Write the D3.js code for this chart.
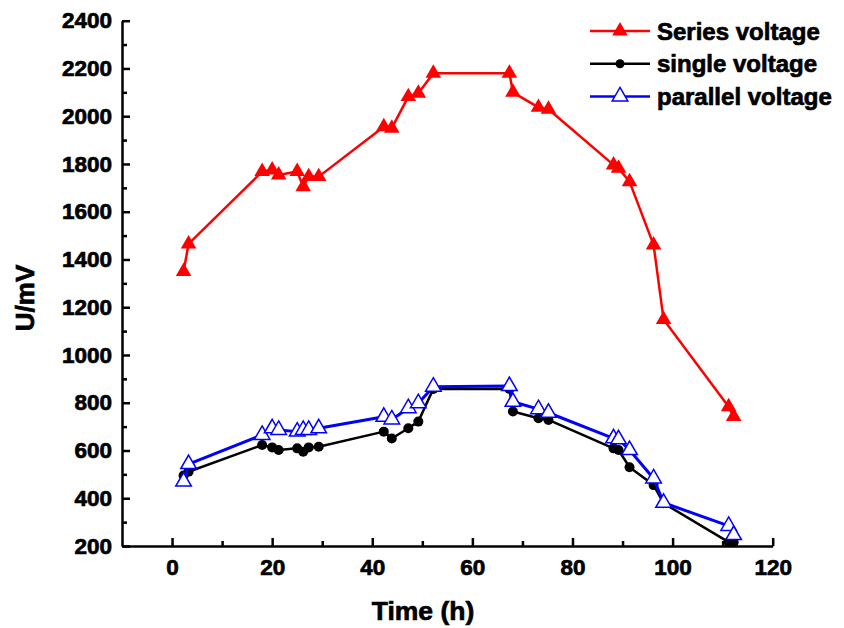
<!DOCTYPE html>
<html>
<head>
<meta charset="utf-8">
<script src="https://cdn.jsdelivr.net/npm/d3@7"></script>
<style>
body { margin: 0; background: #fff; }
text { font-family: "Liberation Sans", Arial, sans-serif; font-weight: bold; fill: #000; stroke: #000; stroke-width: 0.7px; }
</style>
</head>
<body>
<script>
// time points (h), shared by all three series
var hours = [2.3, 3.3, 18, 20, 21.3, 25, 26.2, 27.3, 29.3, 42.3, 43.9, 47.2, 49.2, 52.2,
             67.4, 68.1, 73.2, 75.2, 88.2, 89.2, 91.4, 96.2, 98.2, 111.2, 112.2];

var seriesVoltage = [1350, 1465, 1768, 1775, 1754, 1768, 1705, 1747, 1747, 1956, 1950, 2082, 2096, 2180,
                     2180, 2100, 2037, 2029, 1796, 1782, 1726, 1461, 1149, 783, 742];

var singleVoltage = [495, 511, 623, 613, 602, 609, 595, 613, 616, 679, 650, 693, 721, 858,
                     858, 763, 735, 728, 609, 602, 530, 455, 379, 216, 216];

var parallelVoltage = [470, 543, 665, 693, 686, 679, 686, 686, 693, 741, 730, 777, 798, 867,
                       870, 804, 773, 758, 651, 647, 602, 483, 381, 284, 246];

var xTicks = [0, 20, 40, 60, 80, 100, 120];
var xMinor = [10, 30, 50, 70, 90, 110];
var yTicks = [200, 400, 600, 800, 1000, 1200, 1400, 1600, 1800, 2000, 2200, 2400];
var yMinor = [300, 500, 700, 900, 1100, 1300, 1500, 1700, 1900, 2100, 2300];

var w = 844, h = 628;

var svg = d3.select("body").append("svg")
    .attr("width", w)
    .attr("height", h);

var x = d3.scaleLinear().domain([-10, 120]).range([122, 772.7]);
var y = d3.scaleLinear().domain([200, 2400]).range([546, 20.7]);

// axes, ticks pointing inward
svg.append("g")
    .attr("transform", "translate(0," + y(200) + ")")
    .call(d3.axisBottom(x).tickValues(xTicks).tickFormat(d3.format("d"))
        .tickSizeInner(-8).tickSizeOuter(0).tickPadding(13));
svg.append("g")
    .attr("transform", "translate(0," + y(200) + ")")
    .call(d3.axisBottom(x).tickValues(xMinor).tickSizeInner(-5).tickSizeOuter(0).tickFormat(""))
    .select(".domain").remove();

svg.append("g")
    .attr("transform", "translate(" + x(-10) + ",0)")
    .call(d3.axisLeft(y).tickValues(yTicks).tickFormat(d3.format("d"))
        .tickSizeInner(-8).tickSizeOuter(0).tickPadding(10));
svg.append("g")
    .attr("transform", "translate(" + x(-10) + ",0)")
    .call(d3.axisLeft(y).tickValues(yMinor).tickSizeInner(-5).tickSizeOuter(0).tickFormat(""))
    .select(".domain").remove();

svg.selectAll(".domain").attr("stroke", "#000").attr("stroke-width", 2.5);
svg.selectAll(".tick line").attr("stroke", "#000").attr("stroke-width", 2.5);
svg.selectAll(".tick text").attr("font-size", 22.5).attr("font-family", null);

svg.append("text")
    .attr("x", 423).attr("y", 620)
    .attr("text-anchor", "middle")
    .attr("font-size", 26.5)
    .text("Time (h)");

svg.append("text")
    .attr("transform", "translate(34,298) rotate(-90)")
    .attr("text-anchor", "middle")
    .attr("font-size", 26)
    .text("U/mV");

var tri = d3.symbol().type(d3.symbolTriangle).size(105);

function drawLine(vals, color, width) {
    var line = d3.line()
        .x(function (d, i) { return x(hours[i]); })
        .y(function (d) { return y(d); });
    svg.append("path")
        .datum(vals)
        .attr("d", line)
        .attr("fill", "none")
        .attr("stroke", color)
        .attr("stroke-width", width)
        .attr("stroke-linejoin", "round");
}

// Series voltage
drawLine(seriesVoltage, "#ff0000", 2.5);
svg.selectAll(".ser").data(seriesVoltage).enter().append("path")
    .attr("transform", function (d, i) { return "translate(" + x(hours[i]) + "," + y(d) + ")"; })
    .attr("d", tri)
    .attr("fill", "#ff0000");

// single voltage
drawLine(singleVoltage, "#000", 2.5);
svg.selectAll(".sin").data(singleVoltage).enter().append("circle")
    .attr("cx", function (d, i) { return x(hours[i]); })
    .attr("cy", function (d) { return y(d); })
    .attr("r", 5)
    .attr("fill", "#000");

// parallel voltage
drawLine(parallelVoltage, "#0000ff", 3);
svg.selectAll(".par").data(parallelVoltage).enter().append("path")
    .attr("transform", function (d, i) { return "translate(" + x(hours[i]) + "," + y(d) + ")"; })
    .attr("d", tri)
    .attr("fill", "#fff")
    .attr("stroke", "#0000ff")
    .attr("stroke-width", 1.5);

// legend
var legend = [
    {name: "Series voltage", color: "#ff0000", kind: "fill"},
    {name: "single voltage", color: "#000", kind: "dot"},
    {name: "parallel voltage", color: "#0000ff", kind: "open"}
];
var lg = svg.selectAll(".lg").data(legend).enter().append("g")
    .attr("transform", function (d, i) { return "translate(590," + (31 + i * 32.7) + ")"; });
lg.append("line")
    .attr("x1", 0).attr("x2", 60)
    .attr("stroke", function (d) { return d.color; })
    .attr("stroke-width", 2.5);
lg.each(function (d) {
    var g = d3.select(this);
    if (d.kind == "dot") {
        g.append("circle").attr("cx", 30).attr("r", 4.5).attr("fill", d.color);
    } else {
        g.append("path")
            .attr("transform", "translate(30,0)")
            .attr("d", tri)
            .attr("fill", d.kind == "fill" ? d.color : "#fff")
            .attr("stroke", d.kind == "fill" ? "none" : d.color)
            .attr("stroke-width", 1.5);
    }
});
lg.append("text")
    .attr("x", 67).attr("y", 8.5)
    .attr("font-size", 24)
    .text(function (d) { return d.name; });
</script>
</body>
</html>
